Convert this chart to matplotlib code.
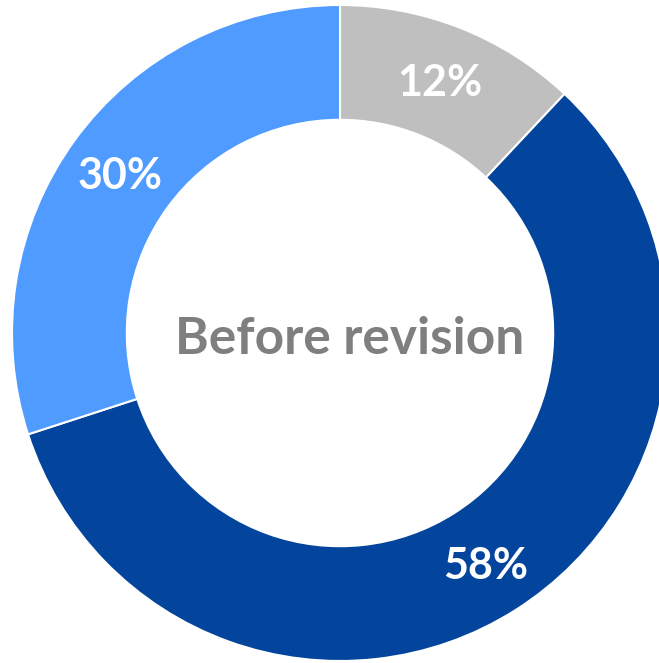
import numpy as np
import matplotlib.pyplot as plt

plt.rcParams["font.family"] = ["Lato", "DejaVu Sans"]

shares = [12, 58, 30]
labels = ["12%", "58%", "30%"]
colors = ["#BFBFBF", "#03459C", "#4F9BFF"]
center_text = "Before revision"

fig = plt.figure(figsize=(6.59, 6.63), dpi=100)
ax = fig.add_axes([0, 0, 1, 1])

wedges, texts = ax.pie(shares, colors=colors, startangle=90, counterclock=False,
                       radius=1.0,
                       wedgeprops=dict(width=0.35, edgecolor="white", linewidth=1.5))

for w, lab in zip(wedges, labels):
    ang = np.deg2rad((w.theta1 + w.theta2) / 2)
    r = 0.83
    ax.text(r * np.cos(ang), r * np.sin(ang), lab, ha="center", va="center_baseline",
            color="white", fontsize=31, fontweight="bold")

ax.text(0.03, -0.02, center_text, ha="center", va="center",
        color="#7F7F7F", fontsize=37, fontweight="bold")

# circle radius ~328 px, centre at (340, 333) px from top-left
R = 328
ax.set_xlim(-340 / R, (659 - 340) / R)
ax.set_ylim(-(663 - 333) / R, 333 / R)
ax.set_aspect("auto")
ax.axis("off")

fig.savefig("out.png", dpi=100)
